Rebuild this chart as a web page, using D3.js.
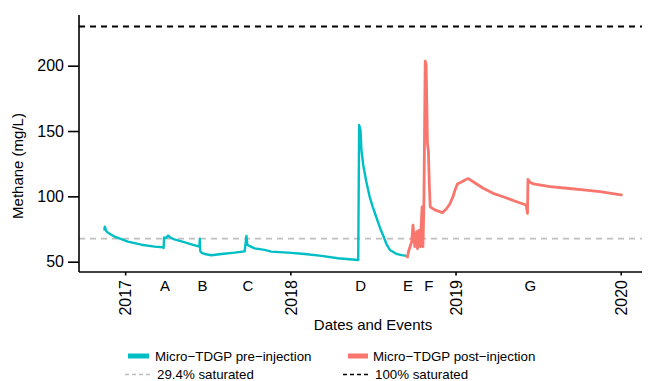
<!DOCTYPE html>
<html>
<head>
<meta charset="utf-8">
<script src="https://cdn.jsdelivr.net/npm/d3@7"></script>
<style>
  body { margin: 0; background: #fff; }
  text { font-family: "Liberation Sans", Arial, sans-serif; fill: #000; }
</style>
</head>
<body>
<script>
// pre-injection series (date, methane mg/L)
const preDates = ['2016-11-16', '2016-11-17', '2016-11-20', '2016-11-24', '2016-12-09', '2017-01-07', '2017-02-06',
  '2017-03-07', '2017-03-26', '2017-03-27', '2017-03-28', '2017-04-01', '2017-04-06', '2017-04-11', '2017-04-20',
  '2017-05-13', '2017-06-04', '2017-06-14', '2017-06-15', '2017-06-16', '2017-06-20', '2017-06-26', '2017-07-10',
  '2017-08-02', '2017-08-31', '2017-09-22', '2017-09-26', '2017-09-28', '2017-10-14', '2017-11-05', '2017-11-20',
  '2017-12-27', '2018-02-02', '2018-03-11', '2018-04-16', '2018-05-31', '2018-06-02', '2018-06-05', '2018-06-07',
  '2018-06-11', '2018-06-18', '2018-06-25', '2018-07-02', '2018-07-10', '2018-07-18', '2018-07-25', '2018-08-02',
  '2018-08-09', '2018-08-23', '2018-09-04', '2018-09-15'];
const preValues = [73.7, 76.8, 73.5, 72.2, 69.1, 65.3, 63,
  61.5, 61, 60.5, 68.5, 68, 70, 68.5, 67,
  64.8, 62.5, 61.5, 67.6, 58, 56.5, 55.9, 54.9,
  55.9, 56.9, 57.9, 69.7, 62.8, 60.2, 59, 57.7,
  56.9, 55.9, 54.4, 52.6, 51.3, 154.6, 150.8, 136,
  124, 111, 100, 92, 84, 76, 70, 63,
  59, 56, 55, 54.4];

// post-injection series
const postDates = ['2018-09-16', '2018-09-20', '2018-09-26', '2018-09-29', '2018-10-03', '2018-10-07', '2018-10-09',
  '2018-10-12', '2018-10-15', '2018-10-19', '2018-10-21', '2018-10-23', '2018-10-26', '2018-10-28', '2018-10-31',
  '2018-11-02', '2018-11-04', '2018-11-06', '2018-11-16', '2018-11-27', '2018-12-03', '2018-12-12', '2018-12-19',
  '2018-12-26', '2018-12-31', '2019-01-05', '2019-01-14', '2019-01-22', '2019-01-29', '2019-02-09', '2019-03-03',
  '2019-03-25', '2019-04-16', '2019-05-16', '2019-06-06', '2019-06-09', '2019-06-10', '2019-06-14', '2019-06-22',
  '2019-07-29', '2019-09-04', '2019-10-10', '2019-11-16', '2020-01-05'];
const postValues = [52.6, 59, 65, 78, 61.5, 73, 60,
  74, 61.5, 92, 61.5, 92, 203.5, 201, 140,
  135, 110, 92, 89.6, 88.3, 87.5, 90.5, 94,
  99.5, 105, 109.5, 111, 112.5, 113.6, 111.2, 106.2,
  102.3, 99.7, 95.9, 93.4, 87, 113, 111, 109.5,
  107.4, 106.2, 104.9, 103.6, 101];

const eventLabels = ['A', 'B', 'C', 'D', 'E', 'F', 'G'];
const eventDates = ['2017-03-29', '2017-06-20', '2017-09-28', '2018-06-04', '2018-09-17', '2018-11-02', '2019-06-14'];
const yearTicks = ['2017-01-01', '2018-01-01', '2019-01-01', '2020-01-01'];
const yTicks = [50, 100, 150, 200];

const saturation = 230;         // 100% saturated
const partial = 0.294 * saturation;

const width = 648;
const height = 381;
const parse = d3.timeParse('%Y-%m-%d');

const x = d3.scaleTime()
    .domain([parse('2016-09-21'), parse('2020-02-17')])
    .range([79, 642]);

const y = d3.scaleLinear()
    .domain([42.1, 238.8])
    .range([272, 15]);

const svg = d3.select('body').append('svg')
    .attr('width', width)
    .attr('height', height);

const pre = preDates.map((d, i) => ({date: parse(d), value: preValues[i]}));
const post = postDates.map((d, i) => ({date: parse(d), value: postValues[i]}));

const line = d3.line()
    .x(d => x(d.date))
    .y(d => y(d.value));

// reference lines
svg.append('line')
    .attr('x1', 79).attr('x2', 642)
    .attr('y1', y(saturation)).attr('y2', y(saturation))
    .attr('stroke', '#000').attr('stroke-width', 1.8)
    .attr('stroke-dasharray', '6,5');

svg.append('line')
    .attr('x1', 79).attr('x2', 642)
    .attr('y1', y(partial)).attr('y2', y(partial))
    .attr('stroke', '#bebebe').attr('stroke-width', 1.8)
    .attr('stroke-dasharray', '6,5');

svg.append('path')
    .datum(pre)
    .attr('d', line)
    .attr('fill', 'none')
    .attr('stroke', '#00BFC4')
    .attr('stroke-width', 2.4)
    .attr('stroke-linejoin', 'round');

svg.append('path')
    .datum(post)
    .attr('d', line)
    .attr('fill', 'none')
    .attr('stroke', '#F8766D')
    .attr('stroke-width', 2.8)
    .attr('stroke-linejoin', 'round');

// y axis
const yAxis = svg.append('g')
    .attr('transform', 'translate(79,0)')
    .call(d3.axisLeft(y).tickValues(yTicks).tickSize(11).tickPadding(4));
yAxis.select('.domain').attr('stroke-width', 1.6).attr('d', 'M0,15V272');
yAxis.selectAll('.tick line').attr('stroke-width', 1.6);
yAxis.selectAll('.tick text')
    .style('font-size', '16px')
    .attr('fill', '#000')
    .style('font-family', '"Liberation Sans", Arial, sans-serif');

// x axis: years (rotated)
const xAxis = svg.append('g')
    .attr('transform', 'translate(0,272)')
    .call(d3.axisBottom(x).tickValues(yearTicks.map(parse)).tickFormat(d3.timeFormat('%Y')).tickSize(3.5));
xAxis.select('.domain').attr('stroke-width', 1.6).attr('d', 'M79,0H642');
xAxis.selectAll('.tick line').attr('stroke-width', 1.6);
xAxis.selectAll('.tick text')
    .style('font-size', '16px')
    .style('font-family', '"Liberation Sans", Arial, sans-serif')
    .attr('fill', '#000')
    .attr('transform', 'rotate(-90)')
    .attr('text-anchor', 'end')
    .attr('x', -8)
    .attr('y', 0)
    .attr('dy', '0.36em');

// x axis: events (horizontal, no ticks)
const eAxis = svg.append('g')
    .attr('transform', 'translate(0,272)')
    .call(d3.axisBottom(x).tickValues(eventDates.map(parse))
      .tickFormat((d, i) => eventLabels[i]).tickSize(0).tickPadding(8));
eAxis.select('.domain').remove();
eAxis.selectAll('.tick text')
    .style('font-size', '15px')
    .style('font-family', '"Liberation Sans", Arial, sans-serif')
    .attr('fill', '#000');

// axis titles
svg.append('text')
    .attr('x', 373)
    .attr('y', 330)
    .attr('text-anchor', 'middle')
    .style('font-size', '15px')
    .text('Dates and Events');

svg.append('text')
    .attr('transform', 'translate(23,166) rotate(-90)')
    .attr('text-anchor', 'middle')
    .style('font-size', '15px')
    .text('Methane (mg/L)');

// legend
const legend = svg.append('g');
const keys = [
  {label: 'Micro\u2212TDGP pre\u2212injection', x1: 128, x2: 149, tx: 155, y: 356, color: '#00BFC4', w: 5, dash: null},
  {label: 'Micro\u2212TDGP post\u2212injection', x1: 348, x2: 368, tx: 373, y: 356, color: '#F8766D', w: 5, dash: null},
  {label: '29.4% saturated', x1: 125, x2: 152, tx: 157, y: 374.5, color: '#bebebe', w: 1.6, dash: '4,3'},
  {label: '100% saturated', x1: 343, x2: 370, tx: 375, y: 374.5, color: '#000', w: 1.6, dash: '4,3'}
];
keys.forEach(k => {
  legend.append('line')
      .attr('x1', k.x1).attr('x2', k.x2)
      .attr('y1', k.y).attr('y2', k.y)
      .attr('stroke', k.color)
      .attr('stroke-width', k.w)
      .attr('stroke-dasharray', k.dash);
  legend.append('text')
      .attr('x', k.tx)
      .attr('y', k.y + 4.5)
      .style('font-size', '13.3px')
      .text(k.label);
});
</script>
</body>
</html>
